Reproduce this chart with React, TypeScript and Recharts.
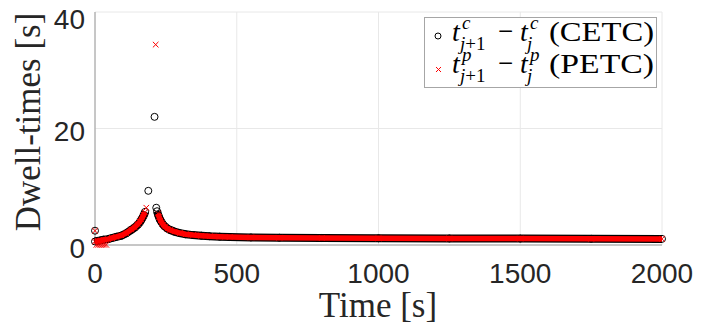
import { ScatterChart, Scatter, XAxis, YAxis, CartesianGrid } from 'recharts';

const xTicks = [0, 500, 1000, 1500, 2000];
const yTicks = [0, 20, 40];

// CETC dwell times, dense band before the peak
const cetcRiseTime = [0, 10, 20, 30, 46, 60, 75, 93, 110, 128, 140, 151, 158, 163, 168, 172, 177];
const cetcRiseDwell = [0.6, 0.7, 0.8, 0.9, 1.0, 1.2, 1.4, 1.6, 2.0, 2.6, 3.0, 3.5, 3.9, 4.3, 4.7, 5.1, 5.7];
// CETC dense band after the peak
const cetcDecayTime = [219, 224, 229, 235, 240, 246, 255, 264, 280, 299, 320, 346, 375, 405, 440, 475, 550, 650, 800, 1000, 1250, 1500, 1750, 2000];
const cetcDecayDwell = [5.8, 5.0, 4.4, 3.9, 3.5, 3.2, 2.85, 2.6, 2.3, 2.05, 1.85, 1.7, 1.6, 1.5, 1.43, 1.37, 1.3, 1.25, 1.2, 1.15, 1.12, 1.1, 1.07, 1.05];
// CETC isolated points
const cetcSpikeTime = [0, 188, 210, 216];
const cetcSpikeDwell = [2.45, 9.3, 22.0, 6.4];

// PETC dwell times
const petcRiseTime = [0, 10, 20, 30, 46, 60, 75, 93, 110, 128, 140, 151, 158, 163, 168, 172, 176];
const petcRiseDwell = [0.6, 0.7, 0.8, 0.9, 1.0, 1.2, 1.4, 1.65, 2.05, 2.65, 3.05, 3.6, 4.0, 4.4, 4.8, 5.2, 5.6];
const petcDecayTime = [222, 226, 231, 236, 241, 247, 256, 265, 281, 300, 320, 346, 375, 405, 440, 475, 550, 650, 800, 1000, 1250, 1500, 1750, 2000];
const petcDecayDwell = [5.4, 4.8, 4.2, 3.8, 3.45, 3.15, 2.8, 2.58, 2.3, 2.05, 1.85, 1.7, 1.6, 1.5, 1.43, 1.37, 1.3, 1.25, 1.2, 1.15, 1.12, 1.1, 1.07, 1.05];
const petcSpikeTime = [0, 5, 12, 19, 26, 33, 40, 181, 214];
const petcSpikeDwell = [2.45, 0.02, 0.02, 0.02, 0.02, 0.02, 0.02, 6.4, 34.4];

const pts = (t: number[], v: number[]) => t.map((x, i) => ({ t: x, v: v[i] }));

const sansFont = "'Liberation Sans', Arial, sans-serif";
const serifFont = "'Liberation Serif', 'Times New Roman', serif";
const textColor = '#262626';

const Circle = (p: any) => (
  <circle cx={p.cx} cy={p.cy} r={3.5} fill="none" stroke="#000" strokeWidth={1} />
);

const Cross = (p: any) => (
  <path
    d={`M${p.cx - 2.8},${p.cy - 2.8}L${p.cx + 2.8},${p.cy + 2.8}M${p.cx - 2.8},${p.cy + 2.8}L${p.cx + 2.8},${p.cy - 2.8}`}
    stroke="#ff0000"
    strokeWidth={1}
  />
);

function XTitle() {
  return (
    <text x={378} y={317} textAnchor="middle" fontFamily={serifFont} fontSize={35} fill={textColor}>
      Time [s]
    </text>
  );
}

function YTitle() {
  return (
    <text
      x={40}
      y={122}
      transform="rotate(-90 40 122)"
      textAnchor="middle"
      fontFamily={serifFont}
      fontSize={35}
      fill={textColor}
    >
      Dwell-times [s]
    </text>
  );
}

// one legend row: t^{sup}_{j+1} - t^{sup}_{j} (label)
const legendRow = (base: number, sup: string, label: string) => [
  <tspan key="a" x={28} y={base} fontStyle="italic">t</tspan>,
  <tspan key="b" x={38} y={base - 12} fontSize={19} fontStyle="italic">{sup}</tspan>,
  <tspan key="c" x={36} y={base + 9} fontSize={19} fontStyle="italic">j</tspan>,
  <tspan key="d" fontSize={19}>+1</tspan>,
  <tspan key="e" x={74} y={base - 1} fontSize={27}>−</tspan>,
  <tspan key="f" x={96} y={base} fontStyle="italic">t</tspan>,
  <tspan key="g" x={106} y={base - 12} fontSize={19} fontStyle="italic">{sup}</tspan>,
  <tspan key="h" x={103} y={base + 9} fontSize={19} fontStyle="italic">j</tspan>,
  <tspan key="i" x={125} y={base} textLength={105} lengthAdjust="spacingAndGlyphs">{label}</tspan>,
];

function LegendBox() {
  const pad = 10;
  return (
    <svg width={234} height={72 + 2 * pad} style={{ position: 'absolute', left: 424, top: 17 - pad }}>
      <g transform={`translate(0 ${pad})`}>
        <rect x={0.5} y={0.5} width={232} height={70} fill="#fff" stroke="#a6a6a6" strokeWidth={1} />
        <circle cx={14} cy={19} r={3} fill="none" stroke="#000" strokeWidth={1} />
        <path d="M12,50L17,55M12,55L17,50" stroke="#ff0000" strokeWidth={1} />
        <text fontFamily={serifFont} fill="#000" fontSize={28}>
          {legendRow(24, 'c', '(CETC)')}
          {legendRow(56, 'p', '(PETC)')}
        </text>
      </g>
    </svg>
  );
}

export default function App() {
  return (
    <div style={{ position: 'absolute', left: 0, top: 0, width: 723, height: 334, background: '#fff' }}>
      <ScatterChart width={723} height={334} margin={{ top: 12, right: 61, bottom: 0, left: 0 }}>
        <CartesianGrid stroke="#e8e8e8" strokeWidth={1} verticalValues={xTicks} horizontalValues={yTicks} />
        <XAxis
          type="number"
          dataKey="t"
          domain={[0, 2000]}
          ticks={xTicks}
          height={89}
          tickLine={false}
          tickSize={0}
          tickMargin={18}
          axisLine={{ stroke: '#9a9a9a' }}
          tick={{ fontSize: 28, fill: textColor, fontFamily: sansFont }}
          label={<XTitle />}
        />
        <YAxis
          type="number"
          dataKey="v"
          domain={[0, 40]}
          ticks={yTicks}
          width={95}
          tickLine={false}
          tickSize={0}
          tickMargin={10}
          axisLine={{ stroke: '#9a9a9a' }}
          tick={{ fontSize: 28, fill: textColor, fontFamily: sansFont, dy: 3 }}
          label={<YTitle />}
        />
        <Scatter data={pts(cetcRiseTime, cetcRiseDwell)} line={{ stroke: '#000', strokeWidth: 8 }} shape={Circle} isAnimationActive={false} />
        <Scatter data={pts(cetcDecayTime, cetcDecayDwell)} line={{ stroke: '#000', strokeWidth: 8 }} shape={Circle} isAnimationActive={false} />
        <Scatter data={pts(petcRiseTime, petcRiseDwell)} line={{ stroke: '#ff0000', strokeWidth: 5.5 }} shape={Cross} isAnimationActive={false} />
        <Scatter data={pts(petcDecayTime, petcDecayDwell)} line={{ stroke: '#ff0000', strokeWidth: 5.5 }} shape={Cross} isAnimationActive={false} />
        <Scatter data={pts(cetcSpikeTime, cetcSpikeDwell)} shape={Circle} isAnimationActive={false} />
        <Scatter data={pts(petcSpikeTime, petcSpikeDwell)} shape={Cross} isAnimationActive={false} />
      </ScatterChart>
      <LegendBox />
    </div>
  );
}
